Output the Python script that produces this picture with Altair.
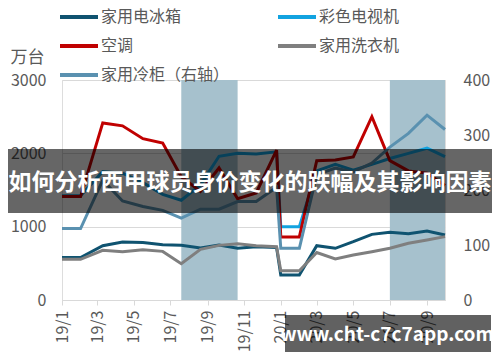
import altair as alt
import pandas as pd

# ---- data ----
# positions of the monthly observations on the date axis (2019/1 .. 2020/10)
obs_dates = ["2019-01-01", "2019-02-01", "2019-03-10", "2019-04-12", "2019-05-16",
             "2019-06-18", "2019-07-19", "2019-08-20", "2019-09-20", "2019-10-21",
             "2019-11-21", "2019-12-25",
             "2020-01-01", "2020-02-01", "2020-03-01", "2020-04-01", "2020-05-01",
             "2020-06-01", "2020-07-01", "2020-08-01", "2020-09-01", "2020-10-01"]

fridge = [580, 580, 740, 790, 785, 755, 745, 710, 750, 705, 725, 715,
          340, 340, 740, 705, 795, 895, 925, 905, 940, 886]
tv = [1420, 1420, 1750, 1730, 1600, 1440, 1360, 1570, 1960, 2000, 1990, 2020,
      1000, 1000, 1760, 1850, 1770, 1850, 1930, 2000, 2070, 1955]
ac = [1410, 1410, 2415, 2375, 2200, 2140, 1680, 1480, 1800, 1380, 1460, 2045,
      860, 860, 1900, 1910, 1950, 2500, 1900, 1760, 1730, 1560]
washer = [555, 555, 678, 659, 686, 663, 495, 690, 745, 768, 741, 727,
          400, 400, 648, 560, 614, 659, 705, 773, 818, 864]
freezer = [130, 130, 218, 180, 170, 163, 149, 165, 165, 179, 179, 205,
           94, 94, 228, 240, 233, 249, 278, 303, 336, 310]

shade_start = ["2019-07-19", "2020-07-01"]
shade_end = ["2019-10-21", "2020-10-01"]

left_names = ["家用电冰箱", "彩色电视机", "空调", "家用洗衣机"]
right_name = "家用冷柜（右轴）"
# legend order (filled column by column: 3 rows x 2 columns)
legend_order = ["家用电冰箱", "空调", "家用冷柜（右轴）", "彩色电视机", "家用洗衣机"]
legend_colors = ["#0F5370", "#C00000", "#5A91B0", "#12A3E0", "#7F7F7F"]

tick_months = [(2019, 1), (2019, 3), (2019, 5), (2019, 7), (2019, 9), (2019, 11),
               (2020, 1), (2020, 3), (2020, 5), (2020, 7), (2020, 9)]
left_ticks = [0, 1000, 2000, 3000]
right_ticks = [0, 100, 200, 300, 400]

banner_text = "如何分析西甲球员身价变化的跌幅及其影响因素"
watermark_text = "www.cht-c7c7app.com"

# ---- tables ----
def local(d):
    return d + "T00:00:00"

left_df = pd.DataFrame({
    "date": [local(d) for d in obs_dates] * 4,
    "value": fridge + tv + ac + washer,
    "series": sum([[n] * len(obs_dates) for n in left_names], []),
})
right_df = pd.DataFrame({
    "date": [local(d) for d in obs_dates],
    "value": freezer,
    "series": [right_name] * len(obs_dates),
})
shade_df = pd.DataFrame({"start": [local(d) for d in shade_start],
                         "end": [local(d) for d in shade_end]})

FONT = "Noto Sans CJK SC"
TXT = "#595959"
W, H = 383, 220

x_scale = alt.Scale(domain=[alt.DateTime(year=2019, month=1, date=1),
                            alt.DateTime(year=2020, month=10, date=1)], nice=False)
x_axis = alt.Axis(values=[alt.DateTime(year=y, month=m, date=1) for y, m in tick_months],
                  format="%y/%-m", labelAngle=-90, title=None, grid=False,
                  domainColor="#D9D9D9", tickColor="#D9D9D9", tickSize=5,
                  labelPadding=5, labelFontSize=16, labelColor=TXT, labelFont=FONT)

color = alt.Color("series:N",
                  scale=alt.Scale(domain=legend_order, range=legend_colors),
                  legend=alt.Legend(orient="none", legendX=-4, legendY=-84, columns=2,
                                    symbolType="stroke", symbolStrokeWidth=4,
                                    symbolSize=1444, labelFontSize=16, labelColor=TXT,
                                    labelFont=FONT, title=None, columnPadding=40,
                                    rowPadding=-14.5, padding=0, labelOffset=1))

left_axis = alt.Axis(values=left_ticks, format="d", title="万台", titleAngle=0,
                     titleX=-35, titleY=-23,
                     titleAlign="center", titleBaseline="middle", titleFontSize=17,
                     titleFontWeight="normal", titleColor=TXT, titleFont=FONT,
                     grid=True, gridColor="#D9D9D9", domain=False, ticks=False,
                     labelPadding=16, labelFontSize=16, labelColor=TXT, labelFont=FONT)
left_scale = alt.Scale(domain=[0, 3000], nice=False)

shade = alt.Chart(shade_df).mark_rect(color="#A6C1CD").encode(
    x=alt.X("start:T", scale=x_scale, axis=x_axis),
    x2="end:T",
    y=alt.Y(datum=3000, scale=left_scale, axis=left_axis),
    y2=alt.Y2(datum=0),
)

left_lines = alt.Chart(left_df).mark_line(strokeWidth=3).encode(
    x=alt.X("date:T", scale=x_scale, axis=x_axis),
    y=alt.Y("value:Q", scale=left_scale, axis=left_axis),
    color=color,
)

right_lines = alt.Chart(right_df).mark_line(strokeWidth=3).encode(
    x=alt.X("date:T", scale=x_scale, axis=x_axis),
    y=alt.Y("value:Q", scale=alt.Scale(domain=[0, 400], nice=False),
            axis=alt.Axis(orient="right", values=right_ticks, title=None, grid=False,
                          domain=False, ticks=False, labelPadding=18, labelFontSize=16,
                          labelColor=TXT, labelFont=FONT)),
    color=color,
)

banner_df = pd.DataFrame({"t": [banner_text]})
banner_box = alt.Chart(banner_df).mark_rect(color="black", opacity=0.6).encode(
    x=alt.value(-54), x2=alt.value(430), y=alt.value(69), y2=alt.value(133))
banner_lbl = alt.Chart(banner_df).mark_text(
    font=FONT, fontSize=23, fontWeight="bold", color="white",
    align="center", baseline="middle").encode(
    text="t:N", x=alt.value(188), y=alt.value(103))

wm_df = pd.DataFrame({"t": [watermark_text]})
wm_box = alt.Chart(wm_df).mark_rect(color="black", opacity=0.62).encode(
    x=alt.value(223), x2=alt.value(429), y=alt.value(235), y2=alt.value(272))
wm_lbl = alt.Chart(wm_df).mark_text(
    font=FONT, fontSize=19, fontWeight="bold", color="white",
    align="center", baseline="middle").encode(
    text="t:N", x=alt.value(325), y=alt.value(255))

base = alt.layer(alt.layer(shade, left_lines), right_lines).resolve_scale(y="independent")

chart = alt.layer(base, banner_box, banner_lbl, wm_box, wm_lbl).properties(
    width=W, height=H,
    autosize=alt.AutoSizeParams(type="none"),
    padding={"left": 54, "top": 72, "right": 47, "bottom": 54},
).configure_view(stroke=None).configure(font=FONT)

chart.save("out.html", embed_options={"renderer": "svg", "actions": False})
